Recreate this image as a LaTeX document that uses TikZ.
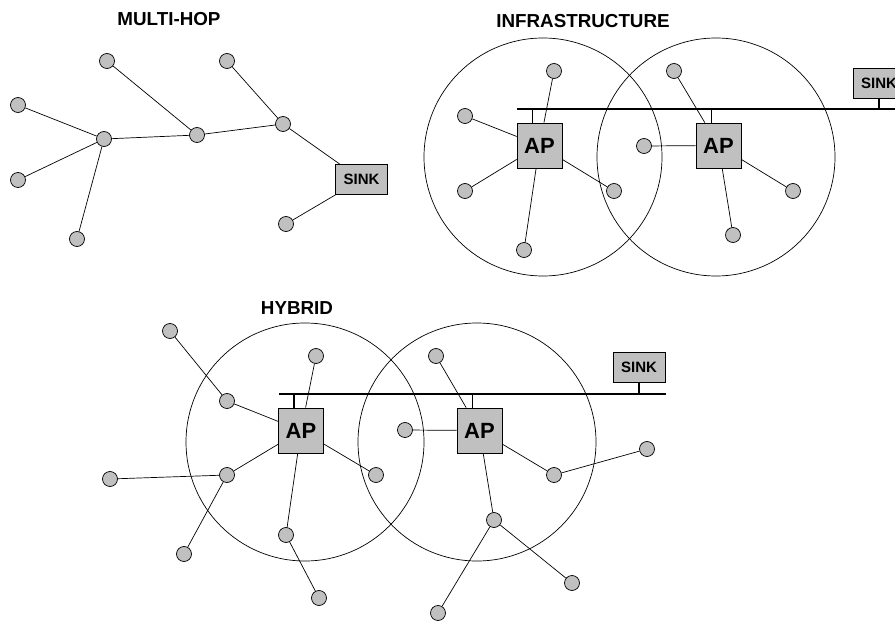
\documentclass[tikz,border=0pt]{standalone}
\usepackage{fontspec}
\setmainfont{Liberation Sans}
\usepackage{xcolor}
\definecolor{nodegray}{HTML}{C0C0C0}
\tikzset{
	sensor/.style={circle, draw, fill=nodegray, minimum size=15pt, inner sep=0pt, line width=0.7pt},
	apbox/.style={rectangle, draw, fill=nodegray, minimum size=45pt, inner sep=0pt, line width=0.7pt, font=\fontsize{22}{22}\selectfont\bfseries},
	sinkbox/.style={rectangle, draw, fill=nodegray, minimum width=52pt, minimum height=30pt, inner sep=0pt, line width=0.7pt, font=\fontsize{15}{15}\selectfont\bfseries},
	heading/.style={font=\fontsize{18.8}{19}\selectfont\bfseries},
	link/.style={line width=0.7pt},
	busline/.style={line width=2pt},
	stem/.style={line width=1.5pt},
	coverage/.style={line width=0.7pt}
}

\begin{document}
\begin{tikzpicture}[x=1pt, y=-1pt]
\useasboundingbox (0,0) rectangle (895,623);
\clip (0,0) rectangle (895,623);
%titles
\node[heading] (tmulti) at (169,19) {MULTI-HOP};
\node[heading] (tinfra) at (583,21) {INFRASTRUCTURE};
\node[heading] (thybrid) at (297,308) {HYBRID};
%ranges
\draw[coverage] (543,157) circle[radius=119pt];
\draw[coverage] (716,157) circle[radius=119pt];
\draw[coverage] (305,442) circle[radius=119pt];
\draw[coverage] (477,442) circle[radius=119pt];
%multi-hop
\foreach \n/\x/\y in {m1/107/61, m2/227/61, m3/18/105, m4/104/139, m5/18/180, m6/77/239, m7/197/135, m8/283/124, m9/286/224}{
	\node[sensor] (\n) at (\x,\y) {};
	}
\node[sinkbox] (msink) at (361.5,179.5) {SINK};
\foreach \a/\b in {m3/m4, m5/m4, m6/m4, m4/m7, m1/m7, m7/m8, m2/m8, m8/msink, m9/msink}{
	\draw[link] (\a) -- (\b);
	}
%infrastructure
\coordinate (ibusl) at (517,109);
\coordinate (ibusr) at (895,109);
\draw[busline] (ibusl) -- (ibusr);
\node[apbox] (iap1) at (539.5,145.5) {AP};
\node[apbox] (iap2) at (718.5,145.5) {AP};
\node[sinkbox] (isink) at (879,83) {SINK};
\foreach \n/\x/\y in {ia/554/71, ib/465/116, ic/465/191, id/524/250, ie/614/191, iff/674/71, ig/644/146, ih/793/191, ii/733/235}{
	\node[sensor] (\n) at (\x,\y) {};
	}
\foreach \a/\b in {ia/iap1, ib/iap1, ic/iap1, id/iap1, ie/iap1, iff/iap2, ig/iap2, ih/iap2, ii/iap2}{
	\draw[link] (\a) -- (\b);
	}
\foreach \ap in {iap1, iap2}{
	\draw[stem] ([xshift=-7pt]\ap.north) -- ([xshift=-7pt]\ap.north |- ibusl);
	}
\draw[stem] (isink.south) -- (isink.south |- ibusl);
%hybrid
\coordinate (hbusl) at (279,394);
\coordinate (hbusr) at (666,394);
\draw[busline] (hbusl) -- (hbusr);
\node[apbox] (hap1) at (301,430.5) {AP};
\node[apbox] (hap2) at (479.5,430.5) {AP};
\node[sinkbox] (hsink) at (639,367) {SINK};
\foreach \n/\x/\y in {h1/170/331, h2/227/401, h3/316/356, h4/110/479, h5/227/475, h6/184/554, h7/286/535, h8/319/598, h9/376/475, h10/405/430, h11/436/356, h12/554/475, h13/647/449, h14/494/520, h15/572/583, h16/438/613}{
	\node[sensor] (\n) at (\x,\y) {};
	}
\foreach \a/\b in {h1/h2, h2/hap1, h3/hap1, h4/h5, h5/hap1, h5/h6, h7/hap1, h7/h8, h9/hap1, h10/hap2, h11/hap2, h12/hap2, h12/h13, h14/hap2, h14/h15, h14/h16}{
	\draw[link] (\a) -- (\b);
	}
\foreach \ap in {hap1, hap2}{
	\draw[stem] ([xshift=-7pt]\ap.north) -- ([xshift=-7pt]\ap.north |- hbusl);
	}
\draw[stem] (hsink.south) -- (hsink.south |- hbusl);
\end{tikzpicture}
\end{document}
